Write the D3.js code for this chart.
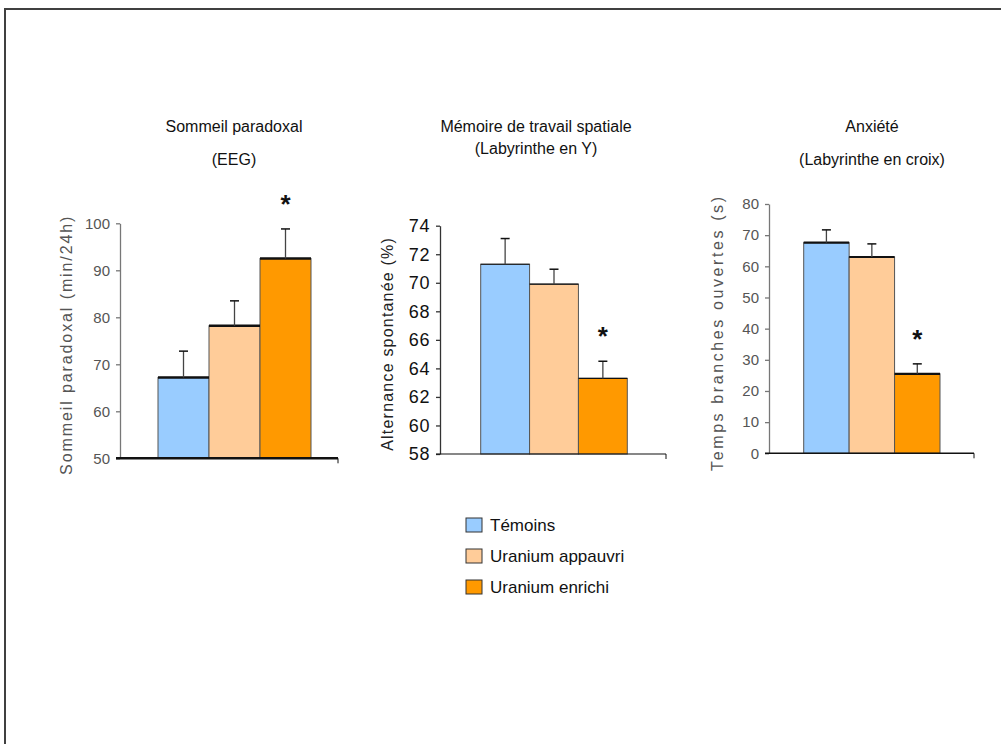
<!DOCTYPE html>
<html>
<head>
<meta charset="utf-8">
<script src="https://cdn.jsdelivr.net/npm/d3@7"></script>
<style>
  body { margin: 0; background: #fff; }
  svg { display: block; font-family: Arial, "Liberation Sans", sans-serif; }
</style>
</head>
<body>
<div id="chart"></div>
<script>
// groups (same in every panel)
var groups = ["Témoins", "Uranium appauvri", "Uranium enrichi"];
var groupColors = ["#99CCFF", "#FFCC99", "#FF9900"];

// Sommeil paradoxal (EEG)
var sleepMeans = [67.2, 78.2, 92.5];
var sleepErr = [5.6, 5.3, 6.3];
var sleepTicks = [50, 60, 70, 80, 90, 100];

// Mémoire de travail spatiale
var memMeans = [71.3, 69.9, 63.3];
var memErr = [1.8, 1.05, 1.2];
var memTicks = [58, 60, 62, 64, 66, 68, 70, 72, 74];

// Anxiété
var anxMeans = [67.6, 63.0, 25.5];
var anxErr = [4.1, 4.2, 3.2];
var anxTicks = [0, 10, 20, 30, 40, 50, 60, 70, 80];

var starFlags = [false, false, true];

var W = 1001, H = 744;

var svg = d3.select("#chart").append("svg")
    .attr("width", W)
    .attr("height", H);

// frame
svg.append("path")
    .attr("d", "M5,744V9H1001")
    .attr("fill", "none")
    .attr("stroke", "#404040")
    .attr("stroke-width", 2);

var panels = [
  { means: sleepMeans, errs: sleepErr, ticks: sleepTicks,
    title: ["Sommeil paradoxal", "(EEG)"], titleX: 234, titleY: [132, 165],
    ylabel: "Sommeil paradoxal (min/24h)", labelX: 72, labelSize: 16, labelSpacing: 1.9, labelColor: "#555",
    tickSize: 15, tickColor: "#555", tickSpacing: 0,
    top: 223.3, bottom: 458.3, axisX: 120, axisEnd: 338, barL: 158, barR: 311,
    yAxisColor: "#777", xAxisWidth: 2.5, topWidth: 2.5 },
  { means: memMeans, errs: memErr, ticks: memTicks,
    title: ["Mémoire de travail spatiale", "(Labyrinthe en Y)"], titleX: 536, titleY: [132, 154],
    ylabel: "Alternance spontanée (%)", labelX: 393, labelSize: 16, labelSpacing: 1.2, labelColor: "#222",
    tickSize: 18, tickColor: "#111", tickSpacing: 0.6,
    top: 225.7, bottom: 454, axisX: 440, axisEnd: 666, barL: 480.7, barR: 627.3,
    yAxisColor: "#333", xAxisWidth: 1.2, topWidth: 1.2 },
  { means: anxMeans, errs: anxErr, ticks: anxTicks,
    title: ["Anxiété", "(Labyrinthe en croix)"], titleX: 872, titleY: [132, 165],
    ylabel: "Temps branches ouvertes (s)", labelX: 723, labelSize: 16, labelSpacing: 2.6, labelColor: "#555",
    tickSize: 15, tickColor: "#555", tickSpacing: 0,
    top: 204, bottom: 453.3, axisX: 769, axisEnd: 974, barL: 803.7, barR: 940,
    yAxisColor: "#777", xAxisWidth: 1.5, topWidth: 2.2 }
];

panels.forEach(function(p) {
  var y = d3.scaleLinear()
      .domain([p.ticks[0], p.ticks[p.ticks.length - 1]])
      .range([p.bottom, p.top]);

  var x = d3.scaleBand()
      .domain(groups)
      .range([p.barL, p.barR])
      .padding(0);

  var g = svg.append("g");

  // titles
  g.selectAll("text.title")
    .data(p.title)
    .enter().append("text")
      .attr("class", "title")
      .attr("x", p.titleX)
      .attr("y", function(d, i) { return p.titleY[i]; })
      .attr("text-anchor", "middle")
      .attr("font-size", 16)
      .attr("fill", "#111")
      .text(function(d) { return d; });

  // y axis
  var yAxis = g.append("g")
      .attr("transform", "translate(" + p.axisX + ",0)")
      .call(d3.axisLeft(y).tickValues(p.ticks).tickSize(4).tickPadding(6).tickSizeOuter(0));
  yAxis.select(".domain").attr("stroke", p.yAxisColor).attr("stroke-width", 1.3);
  yAxis.selectAll(".tick line").attr("stroke", p.yAxisColor).attr("stroke-width", 1.3);
  yAxis.selectAll(".tick text")
      .attr("font-size", p.tickSize)
      .attr("font-family", "Arial, 'Liberation Sans', sans-serif")
      .attr("letter-spacing", p.tickSpacing)
      .attr("fill", p.tickColor);

  // y label
  g.append("text")
      .attr("transform", "translate(" + p.labelX + "," + ((p.top + p.bottom) / 2 + 4) + ") rotate(-90)")
      .attr("text-anchor", "middle")
      .attr("font-size", p.labelSize)
      .attr("letter-spacing", p.labelSpacing)
      .attr("fill", p.labelColor)
      .text(p.ylabel);

  // bars
  g.selectAll("rect.bar")
    .data(p.means)
    .enter().append("rect")
      .attr("class", "bar")
      .attr("x", function(d, i) { return x(groups[i]); })
      .attr("y", function(d) { return y(d); })
      .attr("width", x.bandwidth())
      .attr("height", function(d) { return p.bottom - y(d); })
      .attr("fill", function(d, i) { return groupColors[i]; })
      .attr("stroke", "#555")
      .attr("stroke-width", 1);

  // bar tops
  g.selectAll("line.bartop")
    .data(p.means)
    .enter().append("line")
      .attr("x1", function(d, i) { return x(groups[i]); })
      .attr("x2", function(d, i) { return x(groups[i]) + x.bandwidth(); })
      .attr("y1", function(d) { return y(d); })
      .attr("y2", function(d) { return y(d); })
      .attr("stroke", "#111")
      .attr("stroke-width", p.topWidth);

  // error bars
  var eb = g.selectAll("g.err")
    .data(p.means)
    .enter().append("g");
  eb.append("line")
      .attr("x1", function(d, i) { return x(groups[i]) + x.bandwidth() / 2; })
      .attr("x2", function(d, i) { return x(groups[i]) + x.bandwidth() / 2; })
      .attr("y1", function(d) { return y(d); })
      .attr("y2", function(d, i) { return y(d + p.errs[i]); })
      .attr("stroke", "#444")
      .attr("stroke-width", 1.3);
  eb.append("line")
      .attr("x1", function(d, i) { return x(groups[i]) + x.bandwidth() / 2 - 4.5; })
      .attr("x2", function(d, i) { return x(groups[i]) + x.bandwidth() / 2 + 4.5; })
      .attr("y1", function(d, i) { return y(d + p.errs[i]); })
      .attr("y2", function(d, i) { return y(d + p.errs[i]); })
      .attr("stroke", "#111")
      .attr("stroke-width", 1.5);

  // significance stars
  g.selectAll("text.star")
    .data(p.means.filter(function(d, i) { return starFlags[i]; }))
    .enter().append("text")
      .attr("x", function(d) { var i = p.means.indexOf(d); return x(groups[i]) + x.bandwidth() / 2; })
      .attr("y", function(d) { var i = p.means.indexOf(d); return y(d + p.errs[i]) - 16; })
      .attr("text-anchor", "middle")
      .attr("font-size", 26)
      .attr("font-weight", "bold")
      .attr("fill", "#111")
      .text("*");

  // x axis
  g.append("line")
      .attr("x1", p.axisX - 4)
      .attr("x2", p.axisEnd)
      .attr("y1", p.bottom)
      .attr("y2", p.bottom)
      .attr("stroke", "#111")
      .attr("stroke-width", p.xAxisWidth);
  g.append("line")
      .attr("x1", p.axisEnd)
      .attr("x2", p.axisEnd)
      .attr("y1", p.bottom)
      .attr("y2", p.bottom + 5)
      .attr("stroke", "#111")
      .attr("stroke-width", 1);
});

// legend
var legend = svg.append("g").attr("transform", "translate(466,518)");
var items = legend.selectAll("g")
  .data(groups)
  .enter().append("g")
    .attr("transform", function(d, i) { return "translate(0," + (i * 31) + ")"; });
items.append("rect")
    .attr("width", 16)
    .attr("height", 14)
    .attr("fill", function(d, i) { return groupColors[i]; })
    .attr("stroke", "#333")
    .attr("stroke-width", 1);
items.append("text")
    .attr("x", 24)
    .attr("y", 13)
    .attr("font-size", 17)
    .attr("fill", "#111")
    .text(function(d) { return d; });
</script>
</body>
</html>
